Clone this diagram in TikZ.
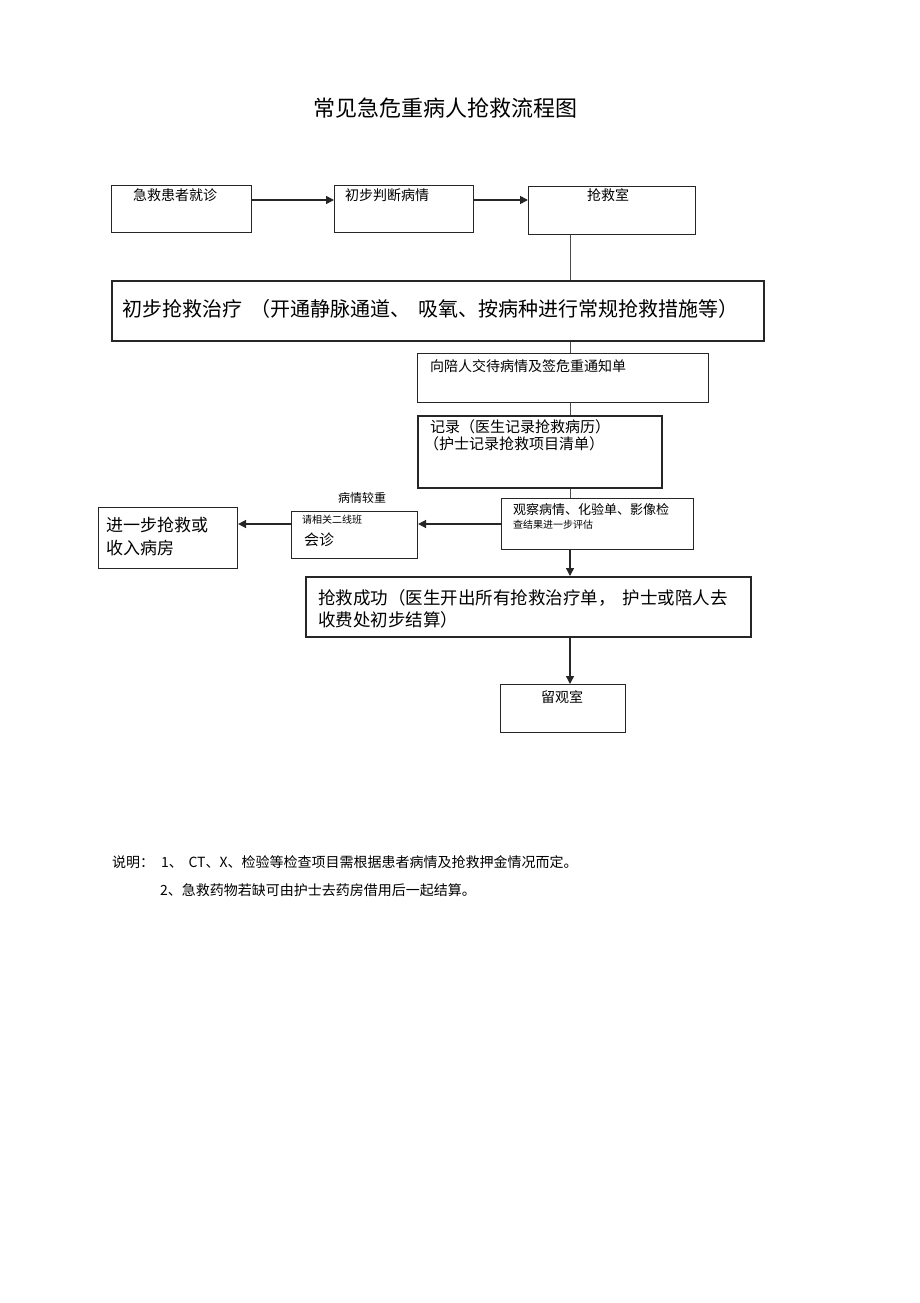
\documentclass[tikz,border=0pt]{standalone}
\usepackage{fontspec}
\setmainfont{Noto Sans CJK SC}
\usetikzlibrary{arrows.meta}

\begin{document}
\begin{tikzpicture}[x=1pt,y=-1pt,
  box/.style={draw=black!85, line width=1.1pt, inner sep=0pt, anchor=north west},
  bigbox/.style={box, line width=1.8pt},
  txt/.style={inner sep=0pt, anchor=west},
  arr/.style={draw=black!85, line width=1.5pt, -{Triangle[length=8pt,width=8pt]}},
  link/.style={draw=black!70, line width=1pt}]
\useasboundingbox (0,0) rectangle (920,1303);

% title
\node[font=\fontsize{22}{26}\selectfont] (title) at (445,108) {常见急危重病人抢救流程图};

% boxes: name/x/y/width/height
\foreach \n/\x/\y/\w/\h in {b1/111/185/140/47, b2/334/185/139/47, b3/528/186/167/48,
    b5/417/353/291/49, b7/501/498/192/51, b9/500/684/125/48, b10/291/511/126/47, b11/98/507/139/61} {
    \node[box, minimum width=\w pt, minimum height=\h pt] (\n) at (\x,\y) {};
}
\foreach \n/\x/\y/\w/\h in {b4/111/280/652/60, b6/417/415/244/72, b8/305/576/445/60} {
    \node[bigbox, minimum width=\w pt, minimum height=\h pt] (\n) at (\x,\y) {};
}

% texts in the boxes
\node[txt, font=\fontsize{14}{16}\selectfont] (t1) at (133,195) {急救患者就诊};
\node[txt, font=\fontsize{14}{16}\selectfont] (t2) at (345,195) {初步判断病情};
\node[font=\fontsize{14}{16}\selectfont, inner sep=0pt] (t3) at (608,195) {抢救室};
\node[txt, font=\fontsize{20}{24}\selectfont] (t4) at (122,309) {初步抢救治疗\hspace{0.4em}（开通静脉通道、\hspace{0.4em}吸氧、按病种进行常规抢救措施等）};
\node[txt, font=\fontsize{14}{16}\selectfont] (t5) at (430,366) {向陪人交待病情及签危重通知单};
\node[txt, font=\fontsize{15}{17}\selectfont] (t6a) at (430,427) {记录（医生记录抢救病历）};
\node[txt, font=\fontsize{15}{17}\selectfont] (t6b) at (424,444) {（护士记录抢救项目清单）};
\node[txt, font=\fontsize{13}{15}\selectfont] (t7a) at (513,510) {观察病情、化验单、影像检};
\node[txt, font=\fontsize{10}{12}\selectfont] (t7b) at (513,525) {查结果进一步评估};
\node[txt, font=\fontsize{17.5}{21}\selectfont] (t8a) at (318,598) {抢救成功（医生开出所有抢救治疗单，\hspace{0.4em}护士或陪人去};
\node[txt, font=\fontsize{17.5}{21}\selectfont] (t8b) at (318,620) {收费处初步结算）};
\node[font=\fontsize{14}{16}\selectfont, inner sep=0pt] (t9) at (562,697) {留观室};
\node[txt, font=\fontsize{10}{12}\selectfont] (t10a) at (302,520) {请相关二线班};
\node[txt, font=\fontsize{15}{17}\selectfont] (t10b) at (304,540) {会诊};
\node[txt, font=\fontsize{17}{20}\selectfont] (t11a) at (106,525) {进一步抢救或};
\node[txt, font=\fontsize{17}{20}\selectfont] (t11b) at (106,548) {收入病房};
\node[font=\fontsize{12}{14}\selectfont, inner sep=0pt] (severe) at (362,498) {病情较重};

% connectors
\coordinate (spine) at (570,0);
\coordinate (row1) at (0,200);
\coordinate (row2) at (0,524);
\draw[arr] (b1.east |- row1) -- (b2.west |- row1);
\draw[arr] (b2.east |- row1) -- (b3.west |- row1);
\draw[link] (b3.south -| spine) -- (b4.north -| spine);
\draw[link] (b4.south -| spine) -- (b5.north -| spine);
\draw[link] (b5.south -| spine) -- (b6.north -| spine);
\draw[link] (b6.south -| spine) -- (b7.north -| spine);
\draw[arr] (b7.south -| spine) -- (b8.north -| spine);
\draw[arr] (b8.south -| spine) -- (b9.north -| spine);
\draw[arr] (b7.west |- row2) -- (b10.east |- row2);
\draw[arr] (b10.west |- row2) -- (b11.east |- row2);

% notes
\node[txt, font=\fontsize{14}{16}\selectfont] (note1) at (112,862) {说明：\hspace{0.5em}1、\hspace{0.4em}CT、X、检验等检查项目需根据患者病情及抢救押金情况而定。};
\node[txt, font=\fontsize{14}{16}\selectfont] (note2) at (160,890) {2、急救药物若缺可由护士去药房借用后一起结算。};
\end{tikzpicture}
\end{document}
